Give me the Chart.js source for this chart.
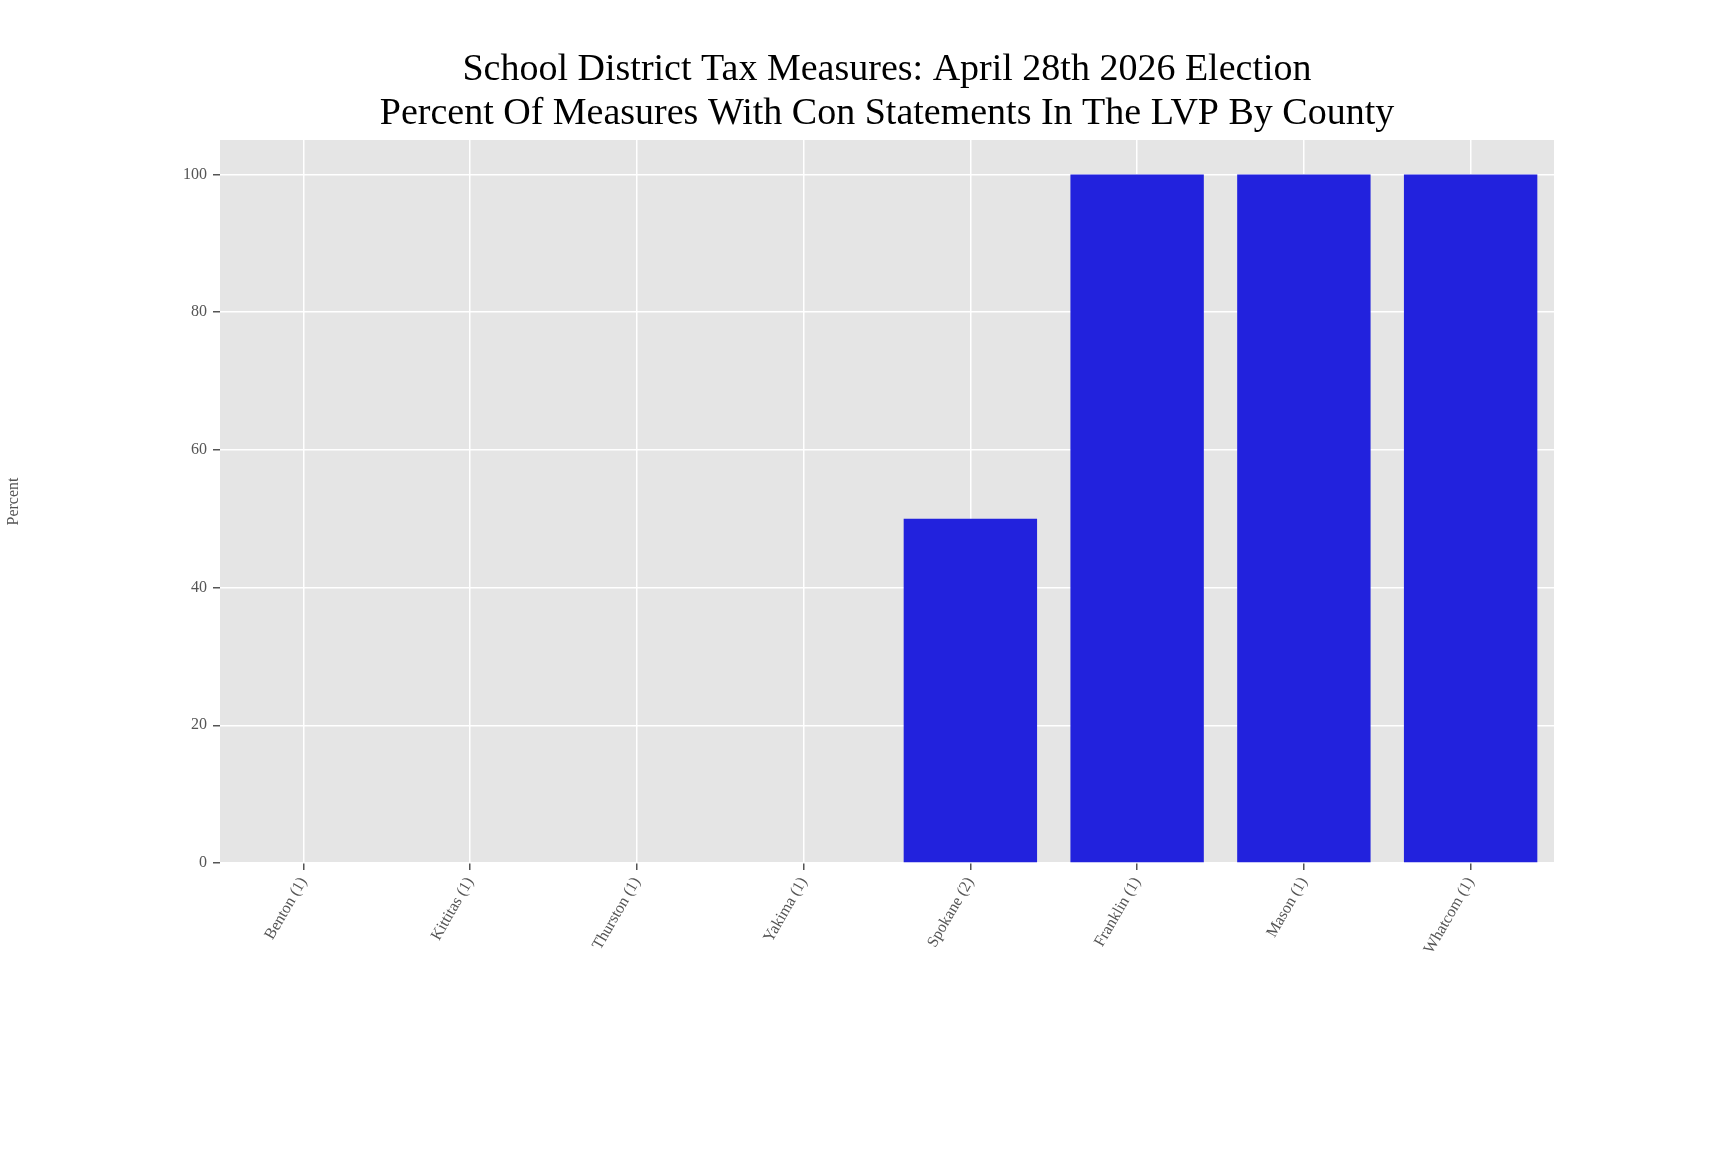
<!DOCTYPE html>
<html><head><meta charset="utf-8">
<script src="https://cdn.jsdelivr.net/npm/chart.js@4"></script>
<style>html,body{margin:0;padding:0;background:#fff}#w{width:1728px;height:1152px}</style>
</head><body><div id="w"><canvas id="c"></canvas></div>
<script>
const categories = ["Benton (1)","Kittitas (1)","Thurston (1)","Yakima (1)","Spokane (2)","Franklin (1)","Mason (1)","Whatcom (1)"];
const percentValues = [0,0,0,0,50,100,100,100];
const yTicks = [0,20,40,60,80,100];
const titleLines = ["School District Tax Measures: April 28th 2026 Election","Percent Of Measures With Con Statements In The LVP By County"];

const bg = {id:'bg',beforeDraw(c){const a=c.chartArea,x=c.ctx;x.save();x.fillStyle='#e5e5e5';x.fillRect(a.left,a.top,a.right-a.left,a.bottom-a.top);x.restore();}};
const ttl = {id:'ttl',afterDraw(c){const x=c.ctx,a=c.chartArea;x.save();x.fillStyle='#000';x.font='38px "Liberation Serif", serif';x.textAlign='center';x.textBaseline='middle';
 const cx=(a.left+a.right)/2; x.fillText(titleLines[0],cx,70); x.fillText(titleLines[1],cx,114); x.restore();}};
const tickFont={family:'"Liberation Serif", serif',size:16};
new Chart(document.getElementById('c'),{
 type:'bar',
 data:{labels:categories,datasets:[{data:percentValues,backgroundColor:'#2222dd',barPercentage:0.8,categoryPercentage:1}]},
 options:{responsive:true,maintainAspectRatio:false,animation:false,
  layout:{padding:{top:140,right:174,left:0,bottom:0}},
  plugins:{legend:{display:false},tooltip:{enabled:false},title:{display:false}},
  scales:{
   x:{offset:true,grid:{color:'#ffffff',lineWidth:1.5,offset:false,drawTicks:true,tickColor:'#555',tickLength:7},border:{display:false},
      ticks:{color:'#555',font:tickFont,maxRotation:60,minRotation:60,padding:4},
      afterFit(s){s.height=289;}},
   y:{min:0,max:105,afterBuildTicks(s){s.ticks=yTicks.map(v=>({value:v}));},
      grid:{color:'#ffffff',lineWidth:1.5,tickColor:'#555',tickLength:7},border:{display:false},
      ticks:{color:'#555',font:tickFont,padding:6},
      title:{display:true,text:'Percent',color:'#555',font:tickFont,padding:{bottom:30}},
      afterFit(s){s.width=220;}}
  }},
 plugins:[bg,ttl]
});
</script></body></html>
